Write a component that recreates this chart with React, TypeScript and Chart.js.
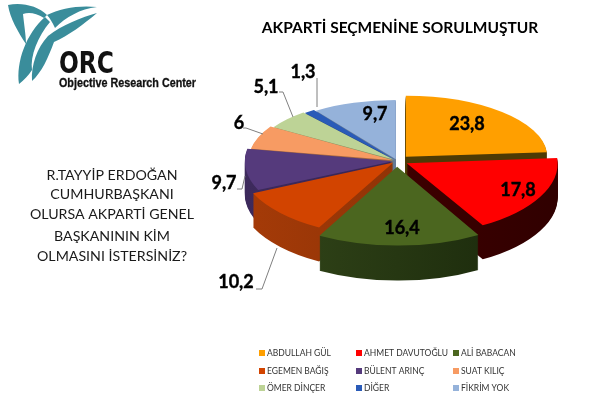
import React, { useEffect, useRef } from "react";
import { Chart, registerables } from "chart.js";

Chart.register(...registerables);

const categories = ["ABDULLAH GÜL", "AHMET DAVUTOĞLU", "ALİ BABACAN", "EGEMEN BAĞIŞ", "BÜLENT ARINÇ", "SUAT KILIÇ", "ÖMER DİNÇER", "DİĞER", "FİKRİM YOK"];
const values = [23.8, 17.8, 16.4, 10.2, 9.7, 6, 5.1, 1.3, 9.7];
const valueTexts = ["23,8", "17,8", "16,4", "10,2", "9,7", "6", "5,1", "1,3", "9,7"];
const title = "AKPARTİ SEÇMENİNE SORULMUŞTUR";
const questionLines = ["R.TAYYİP ERDOĞAN", "CUMHURBAŞKANI", "OLURSA AKPARTİ GENEL", "BAŞKANININ KİM", "OLMASINI İSTERSİNİZ?"];
const questionY = [175, 194, 214, 236, 256];

const topColors = ["#ff9f00", "#ff0000", "#4b661f", "#d24400", "#553a7c", "#f79b63", "#bdd396", "#2a5bb8", "#95b2da"];
const wallLight = ["#4d3a05", "#4a0000", "#34481a", "#a63b08", "#3d2a5c", "#a86a40", "#80905f", "#1c3d80", "#647a99"];
const wallDark = ["#4d3a05", "#300000", "#18260a", "#7c2c04", "#33204f", "#a86a40", "#80905f", "#1c3d80", "#647a99"];
const explode = [13, 11, 13, 5, 4, 4, 4, 4, 4];
const paintOrder = [8, 7, 6, 5, 4, 0, 3, 1, 2];
const labelAnchors: [number, number][] = [[467, 124], [518, 190], [402, 228], [236, 282], [224, 183], [239, 123], [266, 87], [303, 72], [375, 114]];
const leaderEnds: ([number, number][] | null)[] = [null, null, null, [[262, 289], [256, 289]], [[242, 189], [237, 189]], [[246, 128], [243, 128]], [[283, 92], [279, 92]], [[317, 78]], null];
const leaderStarts: ([number, number] | null)[] = [null, null, null, [277, 248], [245, 176], [263, 134], [293, 117], [317, 107], null];

const CENTER_X = 397;
const CENTER_Y = 161;
const FONT = "Lato, 'Open Sans', sans-serif";

function midOf(arc: any) {
  return (arc.startAngle + arc.endAngle) / 2 + Math.PI / 2;
}

const pie3d = {
  id: "pie3d",
  beforeDatasetDraw(chart: any) {
    const ctx = chart.ctx;
    const arcs = chart.getDatasetMeta(0).data;
    for (const i of paintOrder) {
      const arc = arcs[i];
      const mid = midOf(arc);
      const front = -Math.cos(mid);
      const sx = front > 0 ? 1 + 0.09 * front * front : 1 + 0.06 * front;
      const sy = (front > 0 ? 0.465 * (1 + 0.05 * front) : 0.45 * (1 + 0.06 * front)) * sx;
      const dx = Math.sin(mid) * explode[i];
      const dy = -Math.cos(mid) * explode[i] * 0.45;
      const depth = Math.round(33 * (1 + 0.06 * front));
      const saved = arc.options;
      const place = (down: number) => {
        ctx.save();
        ctx.translate(CENTER_X + dx, CENTER_Y + dy + down);
        ctx.scale(sx, sy);
        ctx.translate(-arc.x, -arc.y);
      };
      for (let d = depth; d >= 1; d--) {
        place(d);
        const g = ctx.createLinearGradient(arc.x - 150, 0, arc.x + 150, 0);
        g.addColorStop(0, wallLight[i]);
        g.addColorStop(1, wallDark[i]);
        arc.options = { ...saved, backgroundColor: g };
        arc.draw(ctx);
        ctx.restore();
      }
      arc.options = saved;
      place(0);
      arc.draw(ctx);
      ctx.restore();
    }
    return false;
  },
  afterDraw(chart: any) {
    const ctx = chart.ctx;
    ctx.save();
    // leader lines
    ctx.strokeStyle = "#7f7f7f";
    ctx.lineWidth = 1;
    leaderEnds.forEach((pts, i) => {
      const start = leaderStarts[i];
      if (!pts || !start) return;
      ctx.beginPath();
      ctx.moveTo(start[0], start[1]);
      pts.forEach((p) => ctx.lineTo(p[0], p[1]));
      ctx.stroke();
    });
    // value labels
    ctx.fillStyle = "#000";
    ctx.strokeStyle = "#000";
    ctx.lineWidth = 0.4;
    ctx.textAlign = "center";
    ctx.textBaseline = "middle";
    ctx.font = `bold 18px ${FONT}`;
    valueTexts.forEach((t, i) => {
      ctx.fillText(t, labelAnchors[i][0], labelAnchors[i][1]);
      ctx.strokeText(t, labelAnchors[i][0], labelAnchors[i][1]);
    });
    // title
    ctx.font = `bold 15.5px ${FONT}`;
    ctx.fillText(title, 400, 28);
    // question
    ctx.fillStyle = "#1a1a1a";
    ctx.font = `14.2px ${FONT}`;
    questionLines.forEach((t, i) => ctx.fillText(t, 112, questionY[i]));
    // legend
    ctx.textAlign = "left";
    ctx.font = `8.5px ${FONT}`;
    const colX = [259, 356, 453];
    const rowY = [353, 371, 388];
    categories.forEach((c, i) => {
      const x = colX[i % 3];
      const y = rowY[Math.floor(i / 3)];
      ctx.fillStyle = topColors[i];
      ctx.fillRect(x, y - 3, 6, 6);
      ctx.fillStyle = "#333";
      ctx.fillText(c, x + 8, y);
    });
    ctx.restore();
  },
};

function Logo() {
  return (
    <svg width={210} height={110} style={{ position: "absolute", left: 0, top: 0 }}>
      <path d="M8 5 C22 2 38 6 47 15 L44 18 C36 13 29 12 23 14 C24 24 26 36 26 44 C18 32 10 18 8 5 Z" fill="#3a8d9b" />
      <path d="M19 84 C16 62 26 34 45 17 L50 22 C38 36 30 56 32 70 C28 76 24 80 19 84 Z" fill="#3a8d9b" />
      <path d="M47 15 C60 8 80 5 97 7 C80 9 66 17 55 28 C52 22 50 18 47 15 Z" fill="#3a8d9b" />
      <path d="M97 13 C84 24 68 36 54 42 C48 58 42 72 32 81 C31 65 37 48 48 36 C62 25 82 17 97 13 Z" fill="#3a8d9b" />
      <text x={59} y={73} fontFamily="DejaVu Sans" fontWeight="bold" fontSize={31} textLength={55} lengthAdjust="spacingAndGlyphs" fill="#111">ORC</text>
      <text x={59} y={87} fontFamily="Liberation Sans" fontWeight="bold" fontSize={12} stroke="#111" strokeWidth={0.3} textLength={137} lengthAdjust="spacingAndGlyphs" fill="#111">Objective Research Center</text>
    </svg>
  );
}

export default function App() {
  const ref = useRef<HTMLCanvasElement>(null);
  useEffect(() => {
    const chart = new Chart(ref.current as HTMLCanvasElement, {
      type: "pie",
      data: { labels: categories, datasets: [{ data: values, backgroundColor: topColors, borderWidth: 0, radius: 148 }] },
      options: {
        responsive: false,
        animation: false,
        plugins: { legend: { display: false }, tooltip: { enabled: false }, title: { display: false } },
      },
      plugins: [pie3d],
    } as any);
    return () => chart.destroy();
  }, []);
  return (
    <div style={{ position: "absolute", left: 0, top: 0, width: 600, height: 400, background: "#fff" }}>
      <canvas ref={ref} width={600} height={400} style={{ position: "absolute", left: 0, top: 0 }} />
      <Logo />
    </div>
  );
}
